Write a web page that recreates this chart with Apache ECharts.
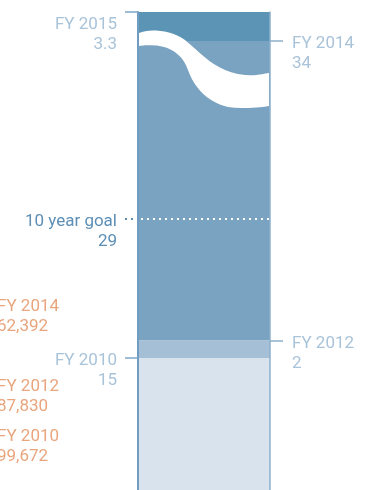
<!DOCTYPE html>
<html>
<head>
<meta charset="utf-8">
<script src="https://cdn.jsdelivr.net/npm/echarts@6/dist/echarts.min.js"></script>
<style>
  html, body { margin: 0; padding: 0; background: #fff; }
  #chart { width: 365px; height: 490px; }
</style>
</head>
<body>
<div id="chart"></div>
<script>
// stacked column, bottom to top
const segmentNames = ['FY 2010', 'FY 2012', 'FY 2014', 'FY 2015']
const segmentValues = [15, 2, 34, 3.3]
const segmentLabels = ['15', '2', '34', '3.3']

// goal: label text and the level where the dotted line sits in the picture
const goalName = '10 year goal'
const goalLabel = '29'
const goalLevel = 30.8

// labels of the neighbouring chart, cut off at the left edge
const sideNames = ['FY 2014', 'FY 2012', 'FY 2010']
const sideValues = ['62,392', '87,830', '99,672']

const colors = ['#d8e3ed', '#a5c0d6', '#7aa3c2', '#5c94b6']
const sides = ['left', 'right', 'right', 'left']
const font = 'Roboto, sans-serif'

const total = segmentValues.reduce((a, b) => a + b, 0)
const chart = echarts.init(document.getElementById('chart'))

// tick + label for the top of every segment
// (leading blank lines push the name down onto the tick)
let acc = 0
const tickLines = segmentValues.map((v, i) => {
  acc += v
  const left = sides[i] === 'left'
  const top = i === segmentValues.length - 1
  return [
    {
      x: left ? 125 : 270, yAxis: acc,
      lineStyle: { color: left ? '#7ea6c4' : '#8cb0cc', width: 1.5, type: 'solid' },
      label: {
        show: true,
        position: left ? 'start' : 'end',
        distance: left ? 8 : 9,
        offset: [0, 3],
        formatter: (top ? '\n\n' : '\n') + segmentNames[i] + '\n' + segmentLabels[i],
        color: '#a9c3d9',
        fontSize: 17,
        fontFamily: font,
        lineHeight: 20
      }
    },
    { x: left ? 138 : 283, yAxis: acc }
  ]
})

const goalLines = [
  [
    {
      x: 125, yAxis: goalLevel,
      lineStyle: { color: '#5d8fb6', width: 2, type: [2, 4] },
      label: {
        show: true, position: 'start', distance: 8,
        offset: [0, 3],
        formatter: '\n' + goalName + '\n' + goalLabel,
        color: '#5d8fb6', fontSize: 17, fontFamily: font,
        lineHeight: 20
      }
    },
    { x: 137, yAxis: goalLevel }
  ],
  [
    { x: 141, yAxis: goalLevel, lineStyle: { color: '#ffffff', width: 2, type: [2, 4] }, label: { show: false } },
    { x: 270, yAxis: goalLevel }
  ]
]

const series = segmentValues.map((v, i) => ({
  name: segmentNames[i],
  type: 'bar',
  stack: 'total',
  barWidth: '100%',
  silent: true,
  data: [v],
  itemStyle: { color: colors[i] }
}))
series[series.length - 1].markLine = {
  silent: true,
  symbol: ['none', 'none'],
  z: 10,
  data: tickLines.concat(goalLines)
}

const sideTexts = []
sideNames.forEach((n, i) => {
  const y0 = [307, 387, 437][i]
  sideTexts.push({
    type: 'text', left: -3, top: y0 - 10,
    style: { text: n + '\n' + sideValues[i], fill: '#e9a57d', font: '17px ' + font, lineHeight: 20 }
  })
})

// break symbol: sample cubic curves into a polygon outline
function bez(p0, p1, p2, p3, n) {
  const pts = []
  for (let k = 0; k <= n; k++) {
    const t = k / n, u = 1 - t
    pts.push([
      u * u * u * p0[0] + 3 * u * u * t * p1[0] + 3 * u * t * t * p2[0] + t * t * t * p3[0],
      u * u * u * p0[1] + 3 * u * u * t * p1[1] + 3 * u * t * t * p2[1] + t * t * t * p3[1]
    ])
  }
  return pts
}
const wave = [].concat(
  bez([139, 33], [150, 29], [170, 29], [185, 40], 12),
  bez([185, 40], [200, 52], [215, 72], [245, 75], 12),
  bez([245, 75], [255, 76], [262, 74], [269, 73], 6),
  bez([269, 106], [258, 108], [240, 109], [228, 107], 6),
  bez([228, 107], [210, 103], [195, 90], [188, 70], 12),
  bez([188, 70], [182, 52], [165, 42], [139, 46], 12)
)

chart.setOption({
  animation: false,
  grid: { left: 138, right: 95, top: 12, bottom: -2 },
  xAxis: { type: 'category', data: ['total'], show: false },
  yAxis: [
    {
      type: 'value', min: 0, max: total, position: 'left', z: 5,
      axisLine: { show: true, lineStyle: { color: '#6f9cc0', width: 2 } },
      axisTick: { show: false }, axisLabel: { show: false }, splitLine: { show: false }
    },
    {
      type: 'value', min: 0, max: total, position: 'right', z: 5,
      axisLine: { show: true, lineStyle: { color: '#8cb0cc', width: 1.5 } },
      axisTick: { show: false }, axisLabel: { show: false }, splitLine: { show: false }
    }
  ],
  series: series,
  graphic: [
    {
      type: 'polygon', z: 4, silent: true,
      shape: { points: wave },
      style: { fill: '#ffffff' }
    }
  ].concat(sideTexts)
})
</script>
</body>
</html>
